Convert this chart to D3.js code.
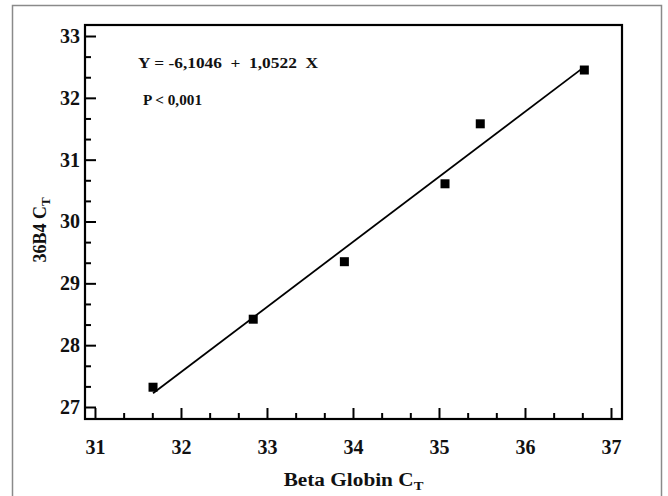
<!DOCTYPE html>
<html>
<head>
<meta charset="utf-8">
<script src="https://cdn.jsdelivr.net/npm/d3@7"></script>
<style>
  body { margin: 0; background: #fff; }
  svg text { font-family: "Liberation Serif", "Times New Roman", serif; font-weight: bold; fill: #111; }
</style>
</head>
<body>
<svg id="chart"></svg>
<script>
const width = 668;
const height = 496;

// data
const betaGlobin = [31.675, 32.84, 33.9, 35.07, 35.48, 36.69];
const ct36b4 = [27.32, 28.42, 29.35, 30.61, 31.58, 32.45];
const intercept = -6.1046;
const slope = 1.0522;
const xTicks = [31, 32, 33, 34, 35, 36, 37];
const yTicks = [27, 28, 29, 30, 31, 32, 33];

const plot = { left: 85, right: 622, top: 25, bottom: 419 };

const svg = d3.select('#chart')
  .attr('width', width)
  .attr('height', height);

// outer frame
svg.append('rect')
  .attr('x', 12.5)
  .attr('y', 5.5)
  .attr('width', 649)
  .attr('height', 520)
  .attr('fill', 'none')
  .attr('stroke', '#8a8a8a')
  .attr('stroke-width', 1.5);

const x = d3.scaleLinear()
  .domain([30.884, 37.128])
  .range([plot.left, plot.right]);

const y = d3.scaleLinear()
  .domain([26.806, 33.178])
  .range([plot.bottom, plot.top]);

const minor = (ticks) => {
  const out = [];
  for (let i = 0; i < ticks.length - 1; i++) {
    out.push(ticks[i] + 1 / 3, ticks[i] + 2 / 3);
  }
  return out;
};

// minor ticks
svg.append('g')
  .attr('transform', `translate(0,${plot.bottom})`)
  .call(d3.axisBottom(x).tickValues(minor(xTicks)).tickSize(-6).tickFormat(''))
  .call(g => g.select('.domain').remove())
  .call(g => g.selectAll('line').attr('stroke', '#000').attr('stroke-width', 2));

svg.append('g')
  .attr('transform', `translate(${plot.left},0)`)
  .call(d3.axisLeft(y).tickValues(minor(yTicks)).tickSize(-6).tickFormat(''))
  .call(g => g.select('.domain').remove())
  .call(g => g.selectAll('line').attr('stroke', '#000').attr('stroke-width', 2));

// major ticks
svg.append('g')
  .attr('transform', `translate(0,${plot.bottom})`)
  .call(d3.axisBottom(x).tickValues(xTicks).tickSize(-11).tickPadding(21).tickFormat(d3.format('d')))
  .call(g => g.select('.domain').remove())
  .call(g => g.selectAll('line').attr('stroke', '#000').attr('stroke-width', 2))
  .call(g => g.selectAll('text').attr('font-size', 20).attr('font-family', null).attr('fill', '#111'));

svg.append('g')
  .attr('transform', `translate(${plot.left},0)`)
  .call(d3.axisLeft(y).tickValues(yTicks).tickSize(-11).tickPadding(5).tickFormat(d3.format('d')))
  .call(g => g.select('.domain').remove())
  .call(g => g.selectAll('line').attr('stroke', '#000').attr('stroke-width', 2))
  .call(g => g.selectAll('text').attr('font-size', 20).attr('font-family', null).attr('fill', '#111'));

// plot box
svg.append('rect')
  .attr('x', plot.left)
  .attr('y', plot.top)
  .attr('width', plot.right - plot.left)
  .attr('height', plot.bottom - plot.top)
  .attr('fill', 'none')
  .attr('stroke', '#000')
  .attr('stroke-width', 2.2);

// regression line
const xs = d3.extent(betaGlobin);
svg.append('line')
  .attr('x1', x(xs[0]))
  .attr('y1', y(intercept + slope * xs[0]))
  .attr('x2', x(xs[1]))
  .attr('y2', y(intercept + slope * xs[1]))
  .attr('stroke', '#000')
  .attr('stroke-width', 1.8);

// points
svg.selectAll('rect.pt')
  .data(betaGlobin)
  .enter()
  .append('rect')
  .attr('class', 'pt')
  .attr('x', (d) => x(d) - 4.5)
  .attr('y', (d, i) => y(ct36b4[i]) - 4.5)
  .attr('width', 9)
  .attr('height', 9)
  .attr('fill', '#000');

// equation (the original type is stretched horizontally)
svg.append('text')
  .attr('x', 138)
  .attr('y', 68)
  .attr('font-size', 15)
  .attr('xml:space', 'preserve')
  .attr('textLength', 180)
  .attr('lengthAdjust', 'spacingAndGlyphs')
  .text('Y = -6,1046  +  1,0522  X');

svg.append('text')
  .attr('x', 143)
  .attr('y', 105)
  .attr('font-size', 14)
  .attr('textLength', 59)
  .attr('lengthAdjust', 'spacingAndGlyphs')
  .text('P < 0,001');

// axis titles
const xTitle = svg.append('text')
  .attr('transform', `translate(${(plot.left + plot.right) / 2},486) scale(1.12,1)`)
  .attr('text-anchor', 'middle')
  .attr('font-size', 19);
xTitle.append('tspan').text('Beta Globin C');
xTitle.append('tspan').attr('font-size', 13).attr('dy', 4).text('T');

const yTitle = svg.append('text')
  .attr('transform', 'translate(46,230) rotate(-90)')
  .attr('text-anchor', 'middle')
  .attr('font-size', 18);
yTitle.append('tspan').text('36B4 C');
yTitle.append('tspan').attr('font-size', 13).attr('dy', 4).text('T');
</script>
</body>
</html>
